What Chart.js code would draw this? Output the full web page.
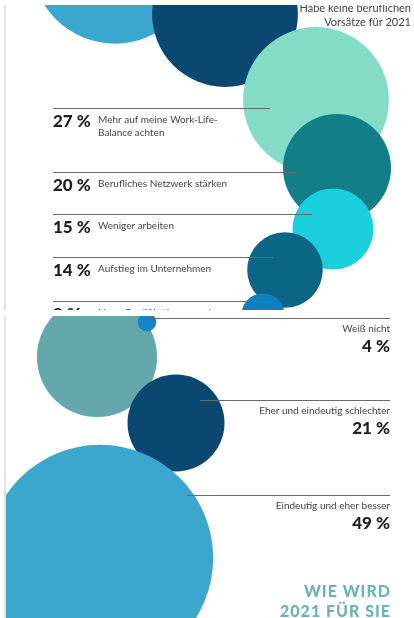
<!DOCTYPE html>
<html>
<head>
<meta charset="utf-8">
<script src="https://cdn.jsdelivr.net/npm/chart.js@4"></script>
<style>
  html, body { margin: 0; padding: 0; background: #fff; }
  body { width: 414px; height: 618px; position: relative; overflow: hidden; }
  .panel { position: absolute; left: 4px; border-left: 2px solid #e3e3e3; }
</style>
</head>
<body>
<div class="panel" style="top:5px;height:305px"><canvas id="chartOben" width="408" height="305"></canvas></div>
<div class="panel" style="top:316px;height:302px"><canvas id="chartUnten" width="408" height="302"></canvas></div>
<script>
// Vorsätze 2021 (oben) - Werte in %
const obenKategorien = [
  '',
  'Habe keine beruflichen\nVorsätze für 2021',
  'Mehr auf meine Work-Life-\nBalance achten',
  'Berufliches Netzwerk stärken',
  'Weniger arbeiten',
  'Aufstieg im Unternehmen',
  'Neue Qualifikation erwerben'
];
const obenWerte = [31, 27, 27, 20, 15, 14, 8];
const obenFarben = ['#3aa7cf', '#0a4872', '#84dcc7', '#127f88', '#1ccfdc', '#0b6686', '#0d80c2'];

// Wie wird 2021 für Sie (unten) - Werte in %
const untenKategorien = ['', 'Weiß nicht', 'Eher und eindeutig schlechter', 'Eindeutig und eher besser'];
const untenWerte = [26, 4, 21, 49];
const untenFarben = ['#64a8ab', '#1185c6', '#0a4872', '#3ba7cc'];

// Layout: Mittelpunkte der Blasen (Seitenkoordinaten) und Linien
const obenX = [115, 225, 316, 337, 333, 285, 263];
const obenY = [-40, 14, 100, 168, 229, 270, 315];
const obenLinien = [null, null, { y: 108, x2: 270 }, { y: 172, x2: 297 }, { y: 214, x2: 312 }, { y: 257, x2: 273 }, { y: 301, x2: 270 }];

const untenX = [97, 147, 176, 100];
const untenY = [357, 322, 423, 558];
const untenLinien = [null, { y: 318, x1: 150 }, { y: 400, x1: 200 }, { y: 495, x1: 187 }];

// keine Extra-Polsterung für die Blasenradien, Zeichenfläche = ganze Canvas
Chart.BubbleController.prototype.getMaxOverflow = function () { return false; };

function blasen(werte, xs, ys, pxProProzent) {
  return werte.map((v, i) => ({ x: xs[i], y: ys[i], r: v * pxProProzent }));
}

function skalen(yMin, yMax) {
  return {
    x: { type: 'linear', min: 6, max: 414, display: false },
    y: { type: 'linear', min: yMin, max: yMax, reverse: true, display: false }
  };
}

const textOben = {
  id: 'textOben',
  afterDatasetsDraw(chart) {
    const ctx = chart.ctx;
    const sx = chart.scales.x, sy = chart.scales.y;
    ctx.save();
    ctx.textBaseline = 'middle';
    obenKategorien.forEach((kat, i) => {
      const l = obenLinien[i];
      if (!l) return;
      ctx.strokeStyle = '#6a6a6a';
      ctx.lineWidth = 1;
      ctx.beginPath();
      ctx.moveTo(sx.getPixelForValue(53), Math.round(sy.getPixelForValue(l.y)) + 0.5);
      ctx.lineTo(sx.getPixelForValue(l.x2), Math.round(sy.getPixelForValue(l.y)) + 0.5);
      ctx.stroke();
      const ty = sy.getPixelForValue(l.y + 14);
      ctx.fillStyle = '#1e1e1e';
      ctx.textAlign = 'left';
      ctx.font = '900 17px Lato';
      ctx.fillText(obenWerte[i] + ' %', sx.getPixelForValue(53), ty);
      ctx.fillStyle = '#444';
      ctx.font = '10px Lato';
      kat.split('\n').forEach((z, k) => ctx.fillText(z, sx.getPixelForValue(98), ty - 2 + k * 13));
    });
    // Kategorie ohne Linie oben rechts
    ctx.fillStyle = '#444';
    ctx.font = '11px Lato';
    ctx.textAlign = 'right';
    obenKategorien[1].split('\n').forEach((z, k) => ctx.fillText(z, sx.getPixelForValue(411), sy.getPixelForValue(8 + k * 14)));
    ctx.restore();
  }
};

const textUnten = {
  id: 'textUnten',
  afterDatasetsDraw(chart) {
    const ctx = chart.ctx;
    const sx = chart.scales.x, sy = chart.scales.y;
    const rechts = sx.getPixelForValue(390);
    ctx.save();
    ctx.textBaseline = 'middle';
    ctx.textAlign = 'right';
    untenKategorien.forEach((kat, i) => {
      const l = untenLinien[i];
      if (!l) return;
      ctx.strokeStyle = '#6a6a6a';
      ctx.lineWidth = 1;
      ctx.beginPath();
      ctx.moveTo(sx.getPixelForValue(l.x1), Math.round(sy.getPixelForValue(l.y)) + 0.5);
      ctx.lineTo(rechts, Math.round(sy.getPixelForValue(l.y)) + 0.5);
      ctx.stroke();
      ctx.fillStyle = '#444';
      ctx.font = '10px Lato';
      ctx.fillText(kat, rechts, sy.getPixelForValue(l.y + 11));
      ctx.fillStyle = '#1e1e1e';
      ctx.font = '900 17px Lato';
      ctx.fillText(untenWerte[i] + ' %', rechts, sy.getPixelForValue(l.y + 29));
    });
    // Titel
    ctx.fillStyle = '#6bb3b6';
    ctx.font = '900 16px Lato';
    ctx.letterSpacing = '1px';
    ctx.fillText('WIE WIRD', rechts + 1, sy.getPixelForValue(592));
    ctx.fillText('2021 FÜR SIE', rechts + 1, sy.getPixelForValue(612));
    ctx.restore();
  }
};

function basisOptionen(yMin, yMax) {
  return {
    responsive: false,
    animation: false,
    events: [],
    layout: { padding: 0 },
    plugins: { legend: { display: false }, tooltip: { enabled: false } },
    scales: skalen(yMin, yMax)
  };
}

new Chart(document.getElementById('chartOben').getContext('2d'), {
  type: 'bubble',
  data: {
    labels: obenKategorien,
    datasets: [{
      data: blasen(obenWerte, obenX, obenY, 2.7),
      backgroundColor: obenFarben,
      borderWidth: 0,
      hoverRadius: 0
    }]
  },
  options: basisOptionen(5, 310),
  plugins: [textOben]
});

new Chart(document.getElementById('chartUnten').getContext('2d'), {
  type: 'bubble',
  data: {
    labels: untenKategorien,
    datasets: [{
      data: blasen(untenWerte, untenX, untenY, 2.31),
      backgroundColor: untenFarben,
      borderWidth: 0,
      hoverRadius: 0
    }]
  },
  options: basisOptionen(316, 618),
  plugins: [textUnten]
});
</script>
</body>
</html>
